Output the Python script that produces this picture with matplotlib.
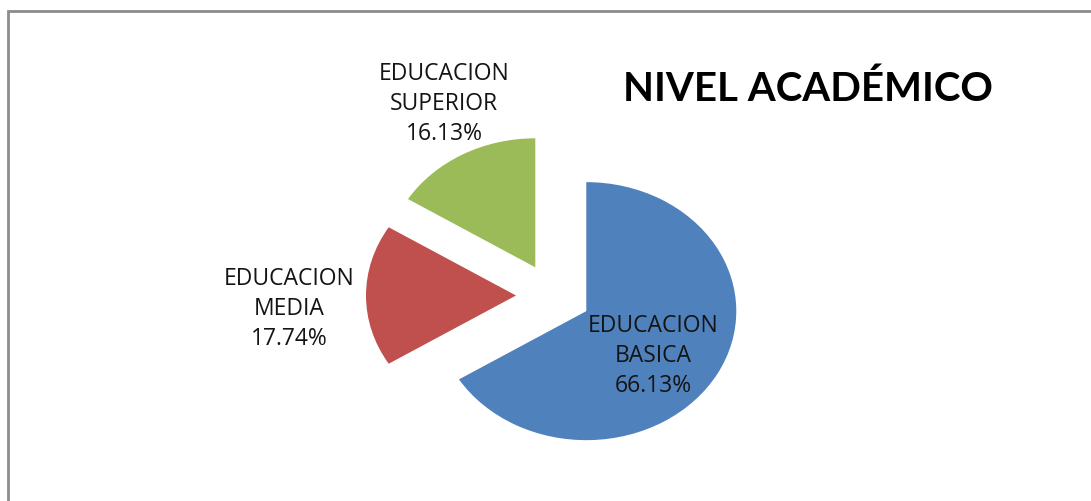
import matplotlib.pyplot as plt
from matplotlib.patches import Rectangle

# datos (62 personas)
categorias = ['EDUCACION\nBASICA', 'EDUCACION\nMEDIA', 'EDUCACION\nSUPERIOR']
conteos = [41, 11, 10]
porcentajes = [66.13, 17.74, 16.13]
colores = ['#4F81BD', '#C0504D', '#9BBB59']
titulo = 'NIVEL ACADÉMICO'

W, H = 1091, 502
fig = plt.figure(figsize=(W / 100, H / 100), dpi=100)
ax = fig.add_axes([0, 0, 1, 1])

# centro del pie en pixeles y radios (el pie sale un poco achatado)
cx, cy = 553.5, 296.5
rx, ry = 150, 129

ax.pie(conteos, colors=colores, startangle=90, counterclock=False,
       explode=[0.25, 0.25, 0.25], radius=1,
       wedgeprops=dict(linewidth=0))
ax.set_aspect('auto')
ax.set_xlim(-cx / rx, (W - cx) / rx)
ax.set_ylim(-(H - cy) / ry, cy / ry)
ax.axis('off')

# marco gris
fig.patches.append(Rectangle((8 / W, -0.1), 1.2, 1 - 12 / H + 0.1, transform=fig.transFigure,
                             fill=False, edgecolor='#8c8c8c', linewidth=2))

# etiquetas de datos
pos_etiquetas = [(653, 356), (289, 309), (444, 104)]
for cat, pct, (x, y) in zip(categorias, porcentajes, pos_etiquetas):
    fig.text(x / W, 1 - y / H, f'{cat}\n{pct:.2f}%', ha='center', va='center',
             fontsize=16.5, family='Open Sans', color='#141414', linespacing=1.36)

fig.text(808 / W, 1 - 89 / H, titulo, ha='center', va='center',
         fontsize=29, fontweight='bold', family='Lato', color='black')

fig.savefig('out.png', dpi=100)
